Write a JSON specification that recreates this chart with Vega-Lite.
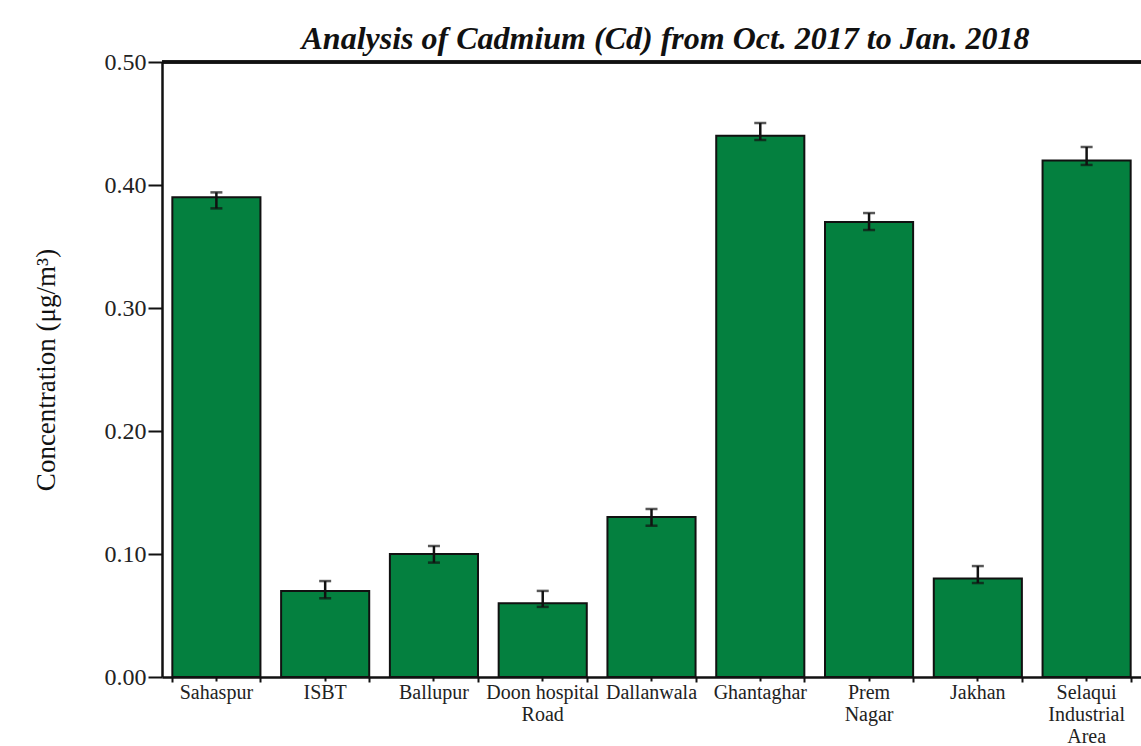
{
  "$schema": "https://vega.github.io/schema/vega-lite/v6.json",
  "autosize": {"type": "none"},
  "padding": {"left": 162, "top": 62, "right": 0, "bottom": 69},
  "width": 979,
  "height": 615,
  "background": "white",
  "title": {
    "text": "Analysis of  Cadmium (Cd) from Oct. 2017 to Jan. 2018",
    "font": "Liberation Serif",
    "fontSize": 32,
    "fontWeight": "bold",
    "fontStyle": "italic",
    "color": "#111111",
    "anchor": "middle",
    "dx": 14,
    "offset": -6
  },
  "data": {
    "values": [
      {"site": "Sahaspur", "value": 0.39, "lo": 0.381, "hi": 0.394},
      {"site": "ISBT", "value": 0.07, "lo": 0.064, "hi": 0.078},
      {"site": "Ballupur", "value": 0.10, "lo": 0.093, "hi": 0.1065},
      {"site": "Doon hospital Road", "value": 0.06, "lo": 0.057, "hi": 0.070},
      {"site": "Dallanwala", "value": 0.13, "lo": 0.123, "hi": 0.1366},
      {"site": "Ghantaghar", "value": 0.44, "lo": 0.4366, "hi": 0.4504},
      {"site": "Prem Nagar", "value": 0.37, "lo": 0.3634, "hi": 0.3772},
      {"site": "Jakhan", "value": 0.08, "lo": 0.0764, "hi": 0.0902},
      {"site": "Selaqui Industrial Area", "value": 0.42, "lo": 0.4163, "hi": 0.4309}
    ]
  },
  "layer": [
    {
      "mark": {"type": "bar", "fill": "#04803f", "stroke": "#111111", "strokeWidth": 2},
      "encoding": {
        "x": {
          "field": "site", "type": "nominal", "sort": null,
          "scale": {"paddingInner": 0.19, "paddingOuter": 0.095},
          "axis": {
            "orient": "bottom",
            "title": null,
            "labelAngle": 0,
            "labelFont": "Liberation Serif",
            "labelFontSize": 20,
            "labelColor": "#222222",
            "labelLineHeight": 22,
            "labelPadding": 1,
            "labelBaseline": "top",
            "labelExpr": "datum.label == 'Doon hospital Road' ? ['Doon hospital', 'Road'] : datum.label == 'Prem Nagar' ? ['Prem', 'Nagar'] : datum.label == 'Selaqui Industrial Area' ? ['Selaqui', 'Industrial', 'Area'] : datum.label",
            "domainColor": "#111111",
            "domainWidth": 2.5,
            "tickColor": "#111111",
            "tickWidth": 2,
            "tickSize": 4,
            "grid": false
          }
        },
        "y": {
          "field": "value", "type": "quantitative",
          "scale": {"domain": [0, 0.5], "nice": false},
          "title": "Concentration (μg/m³)",
          "axis": {
            "titleFont": "Liberation Serif",
            "titleFontSize": 27,
            "titleFontWeight": "normal",
            "titleColor": "#111111",
            "titlePadding": 44,
            "values": [0, 0.1, 0.2, 0.3, 0.4, 0.5],
            "format": ".2f",
            "labelFont": "Liberation Serif",
            "labelFontSize": 24,
            "labelColor": "#222222",
            "labelPadding": 2,
            "tickSize": 14,
            "tickWidth": 2,
            "tickColor": "#111111",
            "domainColor": "#111111",
            "domainWidth": 2.5,
            "grid": false
          }
        }
      }
    },
    {
      "mark": {
        "type": "errorbar",
        "ticks": {"size": 12, "thickness": 2.5, "color": "#111111"},
        "rule": {"strokeWidth": 2.5, "color": "#111111"}
      },
      "encoding": {
        "x": {
          "field": "site", "type": "nominal", "sort": null,
          "axis": {
            "orient": "bottom",
            "title": null,
            "labels": false,
            "domain": false,
            "grid": false,
            "tickBand": "extent",
            "tickColor": "#111111",
            "tickWidth": 2,
            "tickSize": 5
          }
        },
        "y": {"field": "lo", "type": "quantitative", "title": "Concentration (μg/m³)"},
        "y2": {"field": "hi"}
      }
    },
    {
      "mark": {"type": "rule", "color": "#111111", "strokeWidth": 2.5},
      "encoding": {"y": {"datum": 0.5}}
    }
  ],
  "resolve": {"axis": {"x": "independent", "y": "shared"}},
  "config": {"view": {"stroke": null}}
}
